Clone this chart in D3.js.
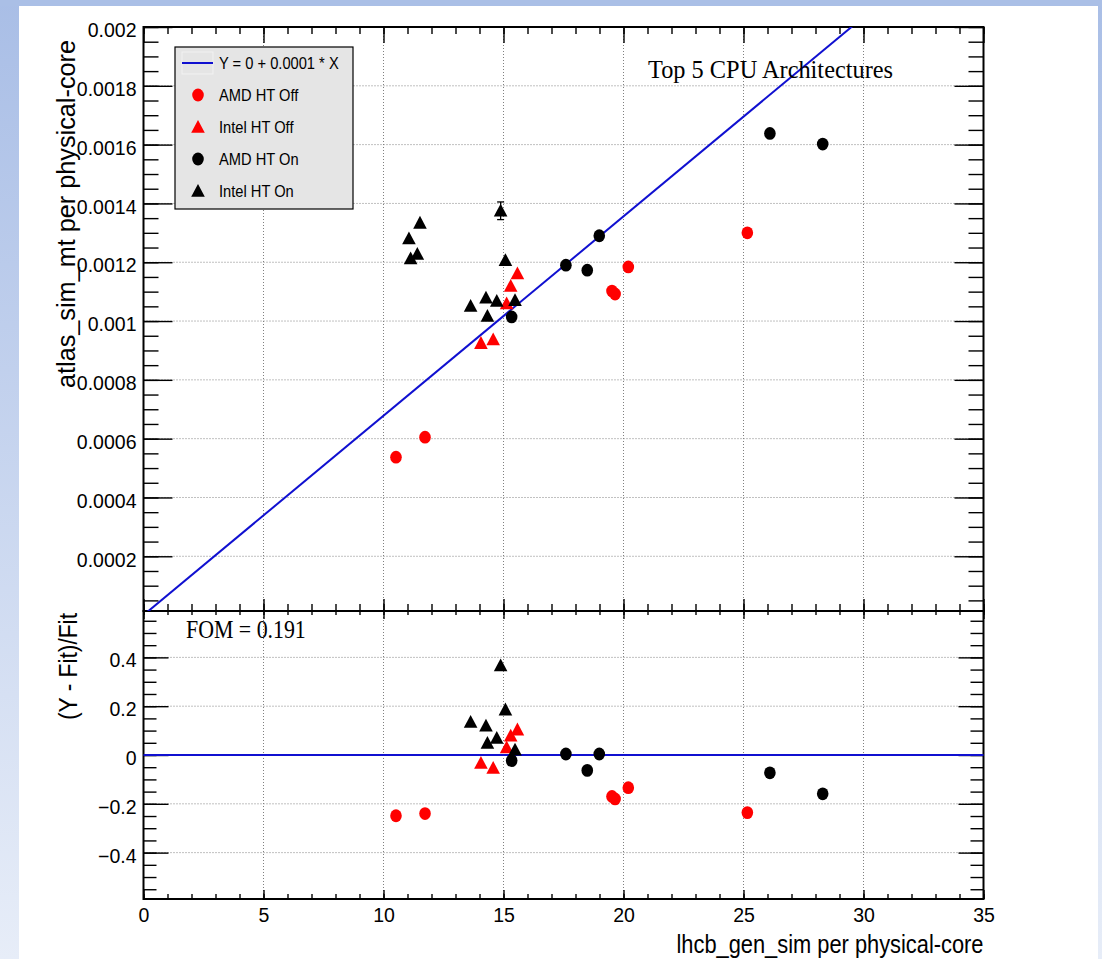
<!DOCTYPE html>
<html>
<head>
<meta charset="utf-8">
<script src="https://cdn.jsdelivr.net/npm/d3@7"></script>
<style>
  body { margin: 0; background: #fff; }
  svg { display: block; }
</style>
</head>
<body>
<svg id="chart" width="1102" height="959"></svg>
<script>
// ---- data ----
var amdOffX = [10.52, 11.73, 19.52, 19.65, 20.20, 25.16];
var amdOffY = [0.000537, 0.000605, 0.001102, 0.001092, 0.001184, 0.001300];
var amdOffR = [-0.249, -0.240, -0.170, -0.180, -0.134, -0.236];

var intelOffX = [14.06, 14.57, 15.13, 15.30, 15.58];
var intelOffY = [0.000925, 0.000937, 0.001060, 0.001119, 0.001162];
var intelOffR = [-0.033, -0.053, 0.031, 0.079, 0.104];

var amdOnX = [15.34, 17.60, 18.49, 18.99, 26.10, 28.30];
var amdOnY = [0.001014, 0.001190, 0.001173, 0.001290, 0.001638, 0.001602];
var amdOnR = [-0.023, 0.004, -0.063, 0.004, -0.073, -0.159];

var intelOnX = [11.52, 11.06, 11.13, 11.41, 14.88, 15.08, 13.63, 14.27, 14.72, 14.33, 15.48];
var intelOnY = [0.001334, 0.001281, 0.001213, 0.001228, 0.001375, 0.001207, 0.001051, 0.001079, 0.001068, 0.001017, 0.001071];
var intelOnR = [0.71, 0.71, 0.61, 0.62, 0.367, 0.186, 0.135, 0.120, 0.070, 0.049, 0.022];
var intelOnErr = [0, 0, 0, 0, 0.00003, 0, 0, 0, 0, 0, 0];

var fitIntercept = 0, fitSlope = 0.0000678;

var xTicks = [0, 5, 10, 15, 20, 25, 30, 35];
var yTopTicks = [0.0002, 0.0004, 0.0006, 0.0008, 0.001, 0.0012, 0.0014, 0.0016, 0.0018, 0.002];
var yTopLabels = ["0.0002", "0.0004", "0.0006", "0.0008", "0.001", "0.0012", "0.0014", "0.0016", "0.0018", "0.002"];
var yBotTicks = [-0.4, -0.2, 0, 0.2, 0.4];
var yBotLabels = ["\u22120.4", "\u22120.2", "0", "0.2", "0.4"];

var legendItems = [
  {label: "Y = 0 + 0.0001 * X", kind: "line", color: "#1010d0"},
  {label: "AMD HT Off", kind: "circle", color: "#ff0000"},
  {label: "Intel HT Off", kind: "triangle", color: "#ff0000"},
  {label: "AMD HT On", kind: "circle", color: "#000"},
  {label: "Intel HT On", kind: "triangle", color: "#000"}
];

var titleText = "Top 5 CPU Architectures";
var fomText = "FOM = 0.191";

// ---- layout ----
var svg = d3.select("#chart"),
    left = 143.5, right = 983.5,
    top1 = 27, mid = 611, bot2 = 899;

var sans = "'Liberation Sans', Arial, sans-serif";
var serif = "'Liberation Serif', 'Times New Roman', serif";

var defs = svg.append("defs");
var grad = defs.append("linearGradient").attr("id", "bg").attr("x1", 0).attr("y1", 0).attr("x2", 0).attr("y2", 1);
grad.append("stop").attr("offset", "0%").attr("stop-color", "#a9bee6");
grad.append("stop").attr("offset", "100%").attr("stop-color", "#e7edf8");
defs.append("clipPath").attr("id", "clipTop").append("rect")
    .attr("x", left).attr("y", top1).attr("width", right - left).attr("height", mid - top1);

svg.append("rect").attr("width", 1102).attr("height", 959).attr("fill", "url(#bg)");
svg.append("rect").attr("x", 0).attr("y", 0).attr("width", 1102).attr("height", 6).attr("fill", "#aabfe6");
svg.append("rect").attr("x", 19).attr("y", 6).attr("width", 1079).attr("height", 953).attr("fill", "#fff");

var x = d3.scaleLinear().domain([0, 35]).range([left, right]);
var yTop = d3.scaleLinear().domain([0.0000139, 0.002]).range([mid, top1]);
var yBot = d3.scaleLinear().domain([-0.59, 0.59]).range([bot2, mid]);

var xMinor = d3.range(0, 36, 1);
var yTopMinor = d3.range(0.00005, 0.00201, 0.00005);
var yBotMinor = d3.range(-0.55, 0.56, 0.05);

// ---- grid ----
function grid(g, xs, ys, yScale, y0, y1) {
  g.selectAll("line.gx").data(xs).enter().append("line")
      .attr("x1", function(d) { return x(d); }).attr("x2", function(d) { return x(d); })
      .attr("y1", y0).attr("y2", y1);
  g.selectAll("line.gy").data(ys).enter().append("line")
      .attr("x1", left).attr("x2", right)
      .attr("y1", function(d) { return yScale(d); }).attr("y2", function(d) { return yScale(d); });
  g.attr("stroke", "#808080").attr("stroke-width", 1).attr("stroke-dasharray", "1,2");
}
grid(svg.append("g"), [5, 10, 15, 20, 25, 30], yTopTicks.slice(0, 9), yTop, top1, mid);
grid(svg.append("g"), [5, 10, 15, 20, 25, 30], [-0.4, -0.2, 0.2, 0.4], yBot, mid, bot2);

// ---- axes (ticks point inward) ----
function axisG(axis, tx, ty) {
  var g = svg.append("g").attr("transform", "translate(" + tx + "," + ty + ")").call(axis);
  g.select(".domain").remove();
  g.selectAll(".tick line").attr("stroke", "#000").attr("stroke-width", 1.4);
  g.selectAll("text").attr("fill", "#000").style("font-family", sans).style("font-size", "19.5px");
  return g;
}
function noLabel() { return ""; }

// top panel y
var gy1 = axisG(d3.axisLeft(yTop).tickValues(yTopTicks).tickSize(-29).tickPadding(7)
    .tickFormat(function(d, i) { return yTopLabels[i]; }), left, 0);
gy1.selectAll("text").attr("dy", "0.5em");
axisG(d3.axisLeft(yTop).tickValues(yTopMinor).tickSize(-15).tickFormat(noLabel), left, 0);
axisG(d3.axisRight(yTop).tickValues(yTopTicks).tickSize(-29).tickFormat(noLabel), right, 0);
axisG(d3.axisRight(yTop).tickValues(yTopMinor).tickSize(-15).tickFormat(noLabel), right, 0);
// top panel x
axisG(d3.axisTop(x).tickValues(xTicks).tickSize(-16).tickFormat(noLabel), 0, top1);
axisG(d3.axisTop(x).tickValues(xMinor).tickSize(-7).tickFormat(noLabel), 0, top1);
axisG(d3.axisBottom(x).tickValues(xTicks).tickSize(-12).tickFormat(noLabel), 0, mid);
axisG(d3.axisBottom(x).tickValues(xMinor).tickSize(-7).tickFormat(noLabel), 0, mid);

// bottom panel y
var gy2 = axisG(d3.axisLeft(yBot).tickValues(yBotTicks).tickSize(-25).tickPadding(7)
    .tickFormat(function(d, i) { return yBotLabels[i]; }), left, 0);
gy2.selectAll("text").attr("dy", "0.48em");
axisG(d3.axisLeft(yBot).tickValues(yBotMinor).tickSize(-13).tickFormat(noLabel), left, 0);
axisG(d3.axisRight(yBot).tickValues(yBotTicks).tickSize(-25).tickFormat(noLabel), right, 0);
axisG(d3.axisRight(yBot).tickValues(yBotMinor).tickSize(-13).tickFormat(noLabel), right, 0);
// bottom panel x
axisG(d3.axisBottom(x).tickValues(xTicks).tickSize(-9).tickPadding(9)
    .tickFormat(function(d) { return String(d); }), 0, bot2);
axisG(d3.axisBottom(x).tickValues(xMinor).tickSize(-5).tickFormat(noLabel), 0, bot2);
axisG(d3.axisTop(x).tickValues(xTicks).tickSize(-8).tickFormat(noLabel), 0, mid);
axisG(d3.axisTop(x).tickValues(xMinor).tickSize(-4).tickFormat(noLabel), 0, mid);

// ---- frames ----
svg.append("rect").attr("x", left).attr("y", top1).attr("width", right - left).attr("height", mid - top1)
    .attr("fill", "none").attr("stroke", "#000").attr("stroke-width", 2);
svg.append("rect").attr("x", left).attr("y", mid).attr("width", right - left).attr("height", bot2 - mid)
    .attr("fill", "none").attr("stroke", "#000").attr("stroke-width", 2);

// ---- fit lines ----
var fitColor = "#1010d0";
svg.append("line").attr("clip-path", "url(#clipTop)")
    .attr("x1", x(0)).attr("y1", yTop(fitIntercept))
    .attr("x2", x(35)).attr("y2", yTop(fitIntercept + fitSlope * 35))
    .attr("stroke", fitColor).attr("stroke-width", 2);
svg.append("line")
    .attr("x1", x(0)).attr("y1", yBot(0)).attr("x2", x(35)).attr("y2", yBot(0))
    .attr("stroke", fitColor).attr("stroke-width", 2);

// ---- markers ----
var triPath = "M0,-7L6.8,5.8L-6.8,5.8Z";
function zip(xs, ys) { return xs.map(function(v, i) { return {x: v, y: ys[i]}; }); }
function drawSeries(data, yScale, kind, color, lo, hi) {
  var pts = data.filter(function(d) { return d.y >= lo && d.y <= hi; });
  var g = svg.append("g");
  if (kind === "circle") {
    g.selectAll("ellipse").data(pts).enter().append("ellipse")
        .attr("cx", function(d) { return x(d.x); }).attr("cy", function(d) { return yScale(d.y); })
        .attr("rx", 5.8).attr("ry", 6.4).attr("fill", color);
  } else {
    g.selectAll("path").data(pts).enter().append("path")
        .attr("transform", function(d) { return "translate(" + x(d.x) + "," + yScale(d.y) + ")"; })
        .attr("d", triPath).attr("fill", color);
  }
}
var yTopLo = yTop.domain()[0], yTopHi = yTop.domain()[1];
var yBotLo = yBot.domain()[0], yBotHi = yBot.domain()[1];

// error bar on the Intel HT On point that has one
var errG = svg.append("g").attr("stroke", "#000").attr("stroke-width", 1.3);
intelOnX.forEach(function(v, i) {
  var e = intelOnErr[i];
  if (!e) return;
  var cx = x(v), ya = yTop(intelOnY[i] + e), yb = yTop(intelOnY[i] - e);
  errG.append("line").attr("x1", cx).attr("x2", cx).attr("y1", ya).attr("y2", yb);
  errG.append("line").attr("x1", cx - 3.5).attr("x2", cx + 3.5).attr("y1", ya).attr("y2", ya);
  errG.append("line").attr("x1", cx - 3.5).attr("x2", cx + 3.5).attr("y1", yb).attr("y2", yb);
});

drawSeries(zip(amdOffX, amdOffY), yTop, "circle", "#ff0000", yTopLo, yTopHi);
drawSeries(zip(intelOffX, intelOffY), yTop, "triangle", "#ff0000", yTopLo, yTopHi);
drawSeries(zip(amdOnX, amdOnY), yTop, "circle", "#000", yTopLo, yTopHi);
drawSeries(zip(intelOnX, intelOnY), yTop, "triangle", "#000", yTopLo, yTopHi);

drawSeries(zip(amdOffX, amdOffR), yBot, "circle", "#ff0000", yBotLo, yBotHi);
drawSeries(zip(intelOffX, intelOffR), yBot, "triangle", "#ff0000", yBotLo, yBotHi);
drawSeries(zip(amdOnX, amdOnR), yBot, "circle", "#000", yBotLo, yBotHi);
drawSeries(zip(intelOnX, intelOnR), yBot, "triangle", "#000", yBotLo, yBotHi);

// condensed text helper (the reference fonts are narrower than Liberation)
function label(parent, tx, ty, str, family, size, sx, anchor) {
  return parent.append("text")
      .attr("transform", "translate(" + tx + "," + ty + ") scale(" + sx + ",1)")
      .attr("text-anchor", anchor || "start")
      .style("font-family", family).style("font-size", size + "px")
      .attr("fill", "#000").text(str);
}

// ---- legend ----
var lg = svg.append("g").attr("transform", "translate(175,47)");
lg.append("rect").attr("width", 178).attr("height", 162)
    .attr("fill", "#e5e5e5").attr("stroke", "#000").attr("stroke-width", 1.2);
legendItems.forEach(function(it, i) {
  var cy = 16 + i * 32;
  if (it.kind === "line") {
    lg.append("rect").attr("x", 7).attr("y", cy - 11).attr("width", 31).attr("height", 22)
        .attr("fill", "none").attr("stroke", "#f2f2f2").attr("stroke-width", 1);
    lg.append("line").attr("x1", 7).attr("x2", 38).attr("y1", cy).attr("y2", cy)
        .attr("stroke", it.color).attr("stroke-width", 2);
  } else if (it.kind === "circle") {
    lg.append("ellipse").attr("cx", 23).attr("cy", cy).attr("rx", 5.8).attr("ry", 6.4).attr("fill", it.color);
  } else {
    lg.append("path").attr("transform", "translate(23," + cy + ")").attr("d", triPath).attr("fill", it.color);
  }
  label(lg, 44, cy + 6, it.label, sans, 16.5, 0.89);
});

// ---- texts ----
label(svg, 648, 78, titleText, serif, 25.5, 0.955);
label(svg, 186, 638, fomText, serif, 25, 0.875);

svg.append("text").attr("transform", "translate(75,40) rotate(-90)").attr("text-anchor", "end")
    .attr("textLength", 348).attr("lengthAdjust", "spacingAndGlyphs")
    .text("atlas_sim_mt per physical-core")
    .style("font-family", sans).style("font-size", "26px").attr("fill", "#000");
svg.append("text").attr("transform", "translate(77,613) rotate(-90)").attr("text-anchor", "end")
    .attr("textLength", 107).attr("lengthAdjust", "spacingAndGlyphs")
    .text("(Y - Fit)/Fit")
    .style("font-family", sans).style("font-size", "26px").attr("fill", "#000");
svg.append("text").attr("x", right).attr("y", 953).attr("text-anchor", "end")
    .attr("textLength", 307).attr("lengthAdjust", "spacingAndGlyphs")
    .text("lhcb_gen_sim per physical-core")
    .style("font-family", sans).style("font-size", "26px").attr("fill", "#000");
</script>
</body>
</html>
